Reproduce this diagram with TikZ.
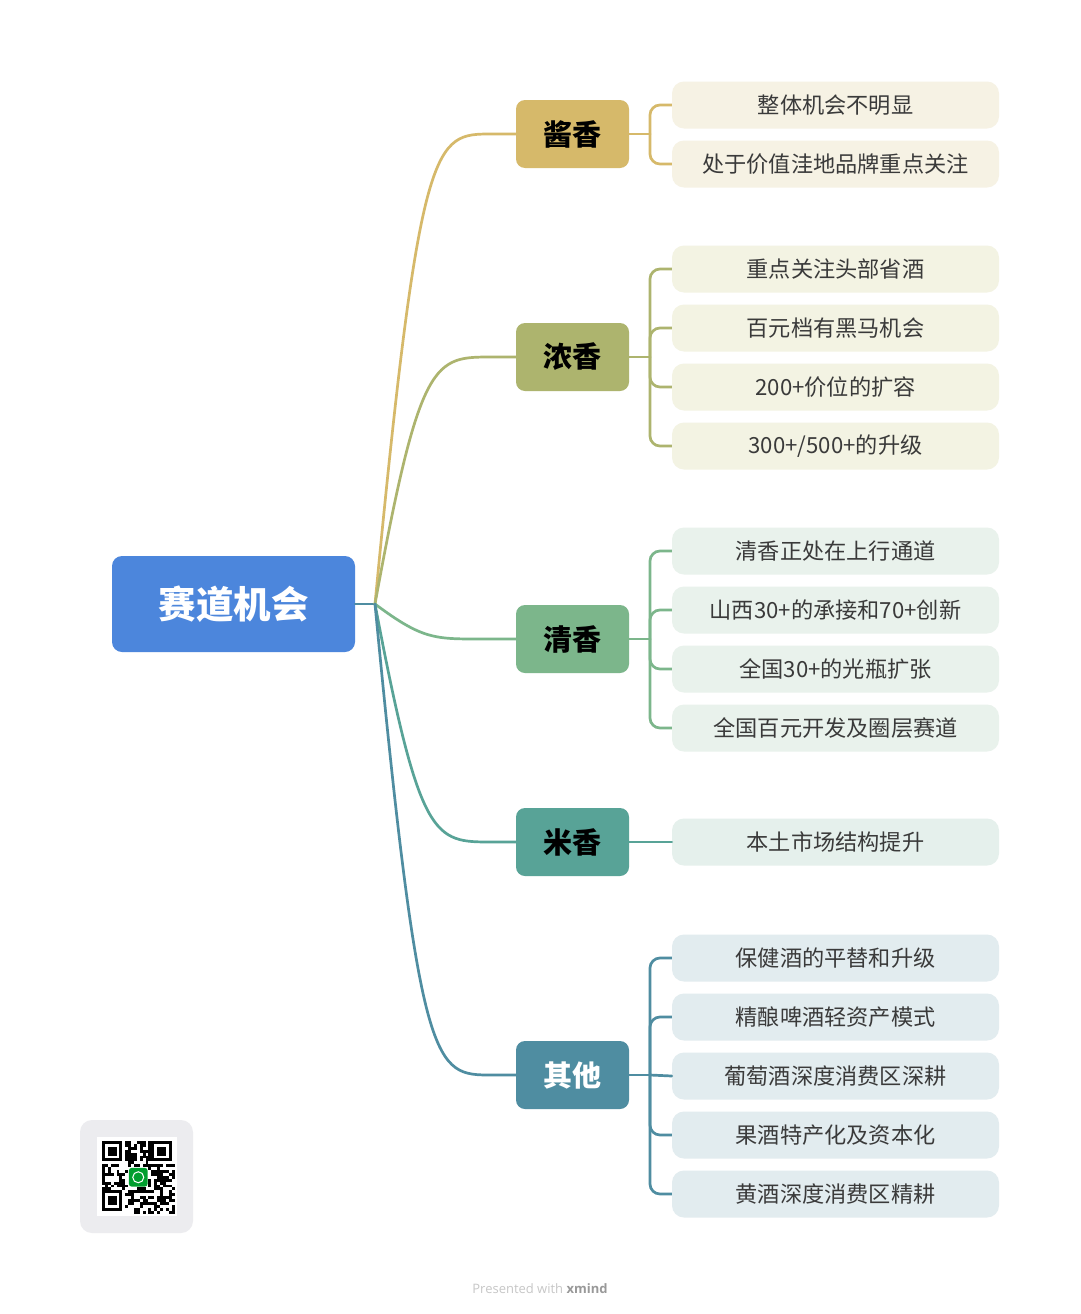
\documentclass[tikz,border=0pt]{standalone}
\usepackage{fontspec}
\setmainfont{Noto Sans CJK SC}
\newfontfamily\footfont{Open Sans}
\definecolor{rootblue}{HTML}{4C86DC}
\definecolor{cjiang}{HTML}{D6B96A}
\definecolor{ljiang}{HTML}{F6F2E4}
\definecolor{cnong}{HTML}{ADB46E}
\definecolor{lnong}{HTML}{F3F3E3}
\definecolor{cqing}{HTML}{7CB68B}
\definecolor{lqing}{HTML}{E9F2EC}
\definecolor{cmi}{HTML}{58A397}
\definecolor{lmi}{HTML}{E5F0EC}
\definecolor{cqita}{HTML}{4F8DA1}
\definecolor{lqita}{HTML}{E2ECEF}
\definecolor{leaftext}{HTML}{3A3A3A}
\definecolor{qrgray}{HTML}{ECECEF}
\begin{document}
\begin{tikzpicture}[x=1pt,y=-1pt,
  rootbox/.style={rounded corners=10pt, fill=rootblue, minimum width=243pt, minimum height=96pt, inner sep=0pt, text=white, font=\fontsize{37.5}{40}\selectfont\bfseries},
  branchbox/.style={rounded corners=9pt, minimum width=113pt, minimum height=68pt, inner sep=0pt, font=\fontsize{29}{32}\selectfont\bfseries},
  leafbox/.style={rounded corners=12pt, minimum width=327pt, minimum height=47pt, inner sep=0pt, text=leaftext, font=\fontsize{22.2}{24}\selectfont},
  conn/.style={line width=2.7pt, line cap=round},
  bracket/.style={line width=2.7pt, rounded corners=10pt}]
\useasboundingbox (0,0) rectangle (1080,1314);
\fill[white] (0,0) rectangle (1080,1314);

% root
\node[rootbox] (root) at (233.5,604) {赛道机会};
\coordinate (J) at (375,604);

% branches
\node[branchbox, fill=cjiang] (bj) at (572.5,134) {酱香};
\node[branchbox, fill=cnong] (bn) at (572.5,357) {浓香};
\node[branchbox, fill=cqing] (bq) at (572.5,639) {清香};
\node[branchbox, fill=cmi] (bm) at (572.5,842) {米香};
\node[branchbox, fill=cqita, text=white] (bo) at (572.5,1075) {其他};

% leaves
\node[leafbox, fill=ljiang] (j1) at (835.5,105) {整体机会不明显};
\node[leafbox, fill=ljiang] (j2) at (835.5,164) {处于价值洼地品牌重点关注};
\node[leafbox, fill=lnong] (n1) at (835.5,269) {重点关注头部省酒};
\node[leafbox, fill=lnong] (n2) at (835.5,328) {百元档有黑马机会};
\node[leafbox, fill=lnong] (n3) at (835.5,387) {200+价位的扩容};
\node[leafbox, fill=lnong] (n4) at (835.5,446) {300+/500+的升级};
\node[leafbox, fill=lqing] (q1) at (835.5,551) {清香正处在上行通道};
\node[leafbox, fill=lqing] (q2) at (835.5,610) {山西30+的承接和70+创新};
\node[leafbox, fill=lqing] (q3) at (835.5,669) {全国30+的光瓶扩张};
\node[leafbox, fill=lqing] (q4) at (835.5,728) {全国百元开发及圈层赛道};
\node[leafbox, fill=lmi] (m1) at (835.5,842) {本土市场结构提升};
\node[leafbox, fill=lqita] (o1) at (835.5,958) {保健酒的平替和升级};
\node[leafbox, fill=lqita] (o2) at (835.5,1017) {精酿啤酒轻资产模式};
\node[leafbox, fill=lqita] (o3) at (835.5,1076) {葡萄酒深度消费区深耕};
\node[leafbox, fill=lqita] (o4) at (835.5,1135) {果酒特产化及资本化};
\node[leafbox, fill=lqita] (o5) at (835.5,1194) {黄酒深度消费区精耕};

% root to branches
\draw[conn, cqita] (root.east) -- (J);
\draw[conn, cjiang] (J) .. controls (420,134) and (434,134) .. (492,134) -- (bj.west);
\draw[conn, cnong] (J) .. controls (420,357) and (434,357) .. (492,357) -- (bn.west);
\draw[conn, cqing] (J) .. controls (422,639) and (434,639) .. (480,639) -- (bq.west);
\draw[conn, cmi] (J) .. controls (420,842) and (434,842) .. (492,842) -- (bm.west);
\draw[conn, cqita] (J) .. controls (420,1075) and (434,1075) .. (492,1075) -- (bo.west);

% branch to leaves
\coordinate (kj) at (650,134);
\coordinate (kn) at (650,357);
\coordinate (kq) at (650,639);
\coordinate (ko) at (650,1075);
\draw[conn, cjiang] (bj.east) -- (kj);
\draw[bracket, cjiang] (kj) |- (j1.west);
\draw[bracket, cjiang] (kj) |- (j2.west);
\draw[conn, cnong] (bn.east) -- (kn);
\foreach \l in {n1,n2,n3,n4} \draw[bracket, cnong] (kn) |- (\l.west);
\draw[conn, cqing] (bq.east) -- (kq);
\foreach \l in {q1,q2,q3,q4} \draw[bracket, cqing] (kq) |- (\l.west);
\draw[conn, cmi] (bm.east) -- (m1.west);
\draw[conn, cqita] (bo.east) -- (ko);
\foreach \l in {o1,o2,o4,o5} \draw[bracket, cqita] (ko) |- (\l.west);
\draw[conn, cqita] (ko) -- (o3.west);

% QR card
\fill[qrgray, rounded corners=12pt] (80,1120) rectangle (193,1233);
\fill[white] (97,1137) rectangle (177,1216);
\begin{scope}[shift={(102,1141)}]
  \pgfmathsetseed{4242}
  \foreach \i in {0,...,24}{
    \foreach \j in {0,...,24}{
      \pgfmathsetmacro\rv{rnd}
      \pgfmathtruncatemacro\skip{((\i<8)&&(\j<8)) || ((\i>16)&&(\j<8)) || ((\i<8)&&(\j>16)) || ((\i>8)&&(\i<16)&&(\j>8)&&(\j<16)) ? 1 : 0}
      \ifnum\skip=0
        \ifdim\rv pt<0.58pt
          \fill[black] (\i*2.9,\j*2.9) rectangle ++(2.9,2.9);
        \fi
      \fi
    }
  }
  \foreach \ox/\oy in {0/0, 17/0, 0/17}{
    \fill[black] (\ox*2.9,\oy*2.9) rectangle ++(7*2.9,7*2.9);
    \fill[white] (\ox*2.9+2.9,\oy*2.9+2.9) rectangle ++(5*2.9,5*2.9);
    \fill[black] (\ox*2.9+5.8,\oy*2.9+5.8) rectangle ++(3*2.9,3*2.9);
  }
  \fill[white] (9*2.9,9*2.9) rectangle ++(7*2.9,7*2.9);
  \fill[green!55!teal!80!black, rounded corners=2.5pt] (9.3*2.9,9.3*2.9) rectangle ++(6.4*2.9,6.4*2.9);
  \draw[white, line width=1pt] (12.5*2.9,12.5*2.9) circle (5.5pt);
\end{scope}

% footer
\node[font=\footfont\fontsize{13}{15}\selectfont, text=black!22, inner sep=0pt] (foot) at (540,1289) {Presented with \textcolor{black!40}{\bfseries xmind}};
\end{tikzpicture}
\end{document}
